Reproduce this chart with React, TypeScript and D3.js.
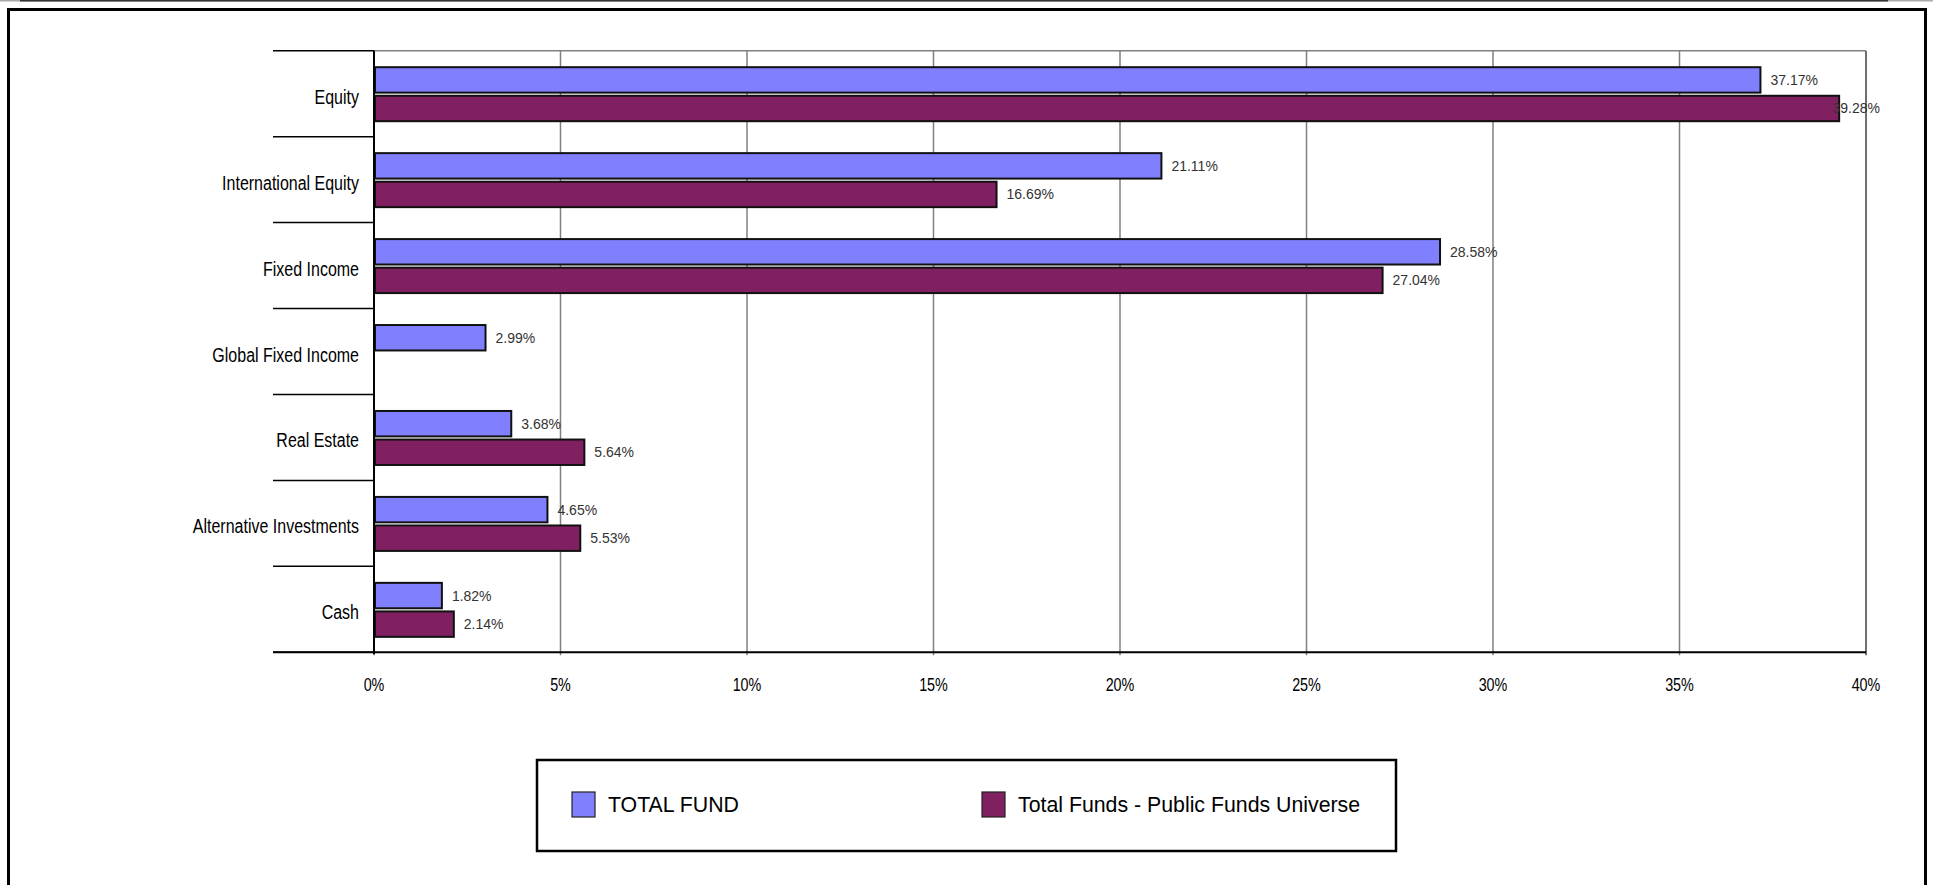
import React from "react";
import * as d3 from "d3";

const categories = [
  "Equity",
  "International Equity",
  "Fixed Income",
  "Global Fixed Income",
  "Real Estate",
  "Alternative Investments",
  "Cash",
];
const seriesNames = ["TOTAL FUND", "Total Funds - Public Funds Universe"];
const totalFund = [37.17, 21.11, 28.58, 2.99, 3.68, 4.65, 1.82];
const publicUniverse: (number | null)[] = [39.28, 16.69, 27.04, null, 5.64, 5.53, 2.14];
const xTicks = [0, 5, 10, 15, 20, 25, 30, 35, 40];
const colors = ["#8080FF", "#802060"];

const W = 1933;
const H = 885;
const SANS = "'Liberation Sans', Arial, sans-serif";
const NARROW_SCALE = 0.82;

function NarrowText(props: {
  x: number;
  y: number;
  anchor: "start" | "middle" | "end";
  size: number;
  children: string;
}) {
  return (
    <g transform={`translate(${props.x},${props.y}) scale(${NARROW_SCALE},1)`}>
      <text x={0} y={0} textAnchor={props.anchor} fontFamily={SANS} fontSize={props.size} fill="#000">
        {props.children}
      </text>
    </g>
  );
}

export default function App() {
  const plotLeft = 374;
  const plotRight = 1866;
  const plotTop = 50.7;
  const plotBottom = 652.3;
  const sepLeft = 273;

  const x = d3.scaleLinear().domain([0, 40]).range([plotLeft, plotRight]);
  const y = d3.scaleBand<string>().domain(categories).range([plotTop, plotBottom]).padding(0);
  const inner = d3
    .scaleBand<number>()
    .domain([0, 1])
    .range([15.5, 71.5])
    .paddingInner(0.04);

  const values = [totalFund, publicUniverse];
  const labelMaxRight = plotRight + 14;
  const approxLabelW = (s: string) => s.length * 7.8;

  const bands = categories.map((c) => y(c) as number);
  const boundaries = [...bands, plotBottom];

  return (
    <svg
      width={W}
      height={H}
      style={{ position: "absolute", left: 0, top: 0, background: "#fff" }}
    >
      {/* top page line */}
      <rect x={0} y={0} width={W} height={1.5} fill="#aaa" />
      <rect x={20} y={0} width={1868} height={1.5} fill="#333" />
      {/* outer frame */}
      <rect x={8.5} y={9.5} width={1917} height={H + 20} fill="none" stroke="#000" strokeWidth={3} />

      {/* gridlines */}
      {xTicks.map((t) => (
        <line
          key={"g" + t}
          x1={x(t)}
          x2={x(t)}
          y1={plotTop}
          y2={plotBottom + 3}
          stroke={t === 40 ? "#404040" : "#808080"}
          strokeWidth={1.5}
        />
      ))}
      <line x1={plotLeft} x2={plotRight} y1={plotTop} y2={plotTop} stroke="#808080" strokeWidth={1.5} />

      {/* category separators */}
      {boundaries.map((b, i) => (
        <line key={"s" + i} x1={sepLeft} x2={plotLeft} y1={b} y2={b} stroke="#000" strokeWidth={1.5} />
      ))}

      {/* bars */}
      {categories.map((c, ci) =>
        values.map((vals, si) => {
          const v = vals[ci];
          if (v === null || v === undefined) return null;
          const by = (y(c) as number) + (inner(si) as number);
          const bh = inner.bandwidth();
          return (
            <rect
              key={c + si}
              x={x(0) + 1}
              y={by + 1}
              width={x(v) - x(0) - 1}
              height={bh - 2}
              fill={colors[si]}
              stroke="#111"
              strokeWidth={2}
            />
          );
        })
      )}

      {/* axes */}
      <line x1={plotLeft} x2={plotLeft} y1={plotTop} y2={plotBottom + 2} stroke="#000" strokeWidth={2} />
      <line x1={sepLeft} x2={plotRight} y1={plotBottom} y2={plotBottom} stroke="#000" strokeWidth={2} />

      {/* value labels */}
      {categories.map((c, ci) =>
        values.map((vals, si) => {
          const v = vals[ci];
          if (v === null || v === undefined) return null;
          const txt = v.toFixed(2) + "%";
          const cy = (y(c) as number) + (inner(si) as number) + inner.bandwidth() / 2;
          let lx = x(v) + 10;
          const w = approxLabelW(txt);
          let anchor: "start" | "end" = "start";
          if (lx + w > labelMaxRight) {
            lx = labelMaxRight;
            anchor = "end";
          }
          return (
            <text
              key={"l" + c + si}
              x={lx}
              y={cy + 5}
              textAnchor={anchor}
              fontFamily={SANS}
              fontSize={14}
              fill="#333"
            >
              {txt}
            </text>
          );
        })
      )}

      {/* category labels */}
      {categories.map((c) => (
        <NarrowText key={"c" + c} x={359} y={(y(c) as number) + y.bandwidth() / 2 + 10} anchor="end" size={19.5}>
          {c}
        </NarrowText>
      ))}

      {/* tick labels */}
      {xTicks.map((t) => (
        <NarrowText key={"t" + t} x={x(t)} y={691} anchor="middle" size={17.5}>
          {t + "%"}
        </NarrowText>
      ))}

      {/* legend */}
      <rect x={537} y={760} width={859} height={91} fill="#fff" stroke="#000" strokeWidth={2.5} />
      {seriesNames.map((s, i) => {
        const lx = i === 0 ? 572 : 982;
        return (
          <g key={"lg" + i}>
            <rect x={lx} y={792} width={23} height={25} fill={colors[i]} stroke="#222" strokeWidth={1.2} />
            <text x={lx + 36} y={812} fontFamily={SANS} fontSize={21.3} fill="#000">
              {s}
            </text>
          </g>
        );
      })}
    </svg>
  );
}
